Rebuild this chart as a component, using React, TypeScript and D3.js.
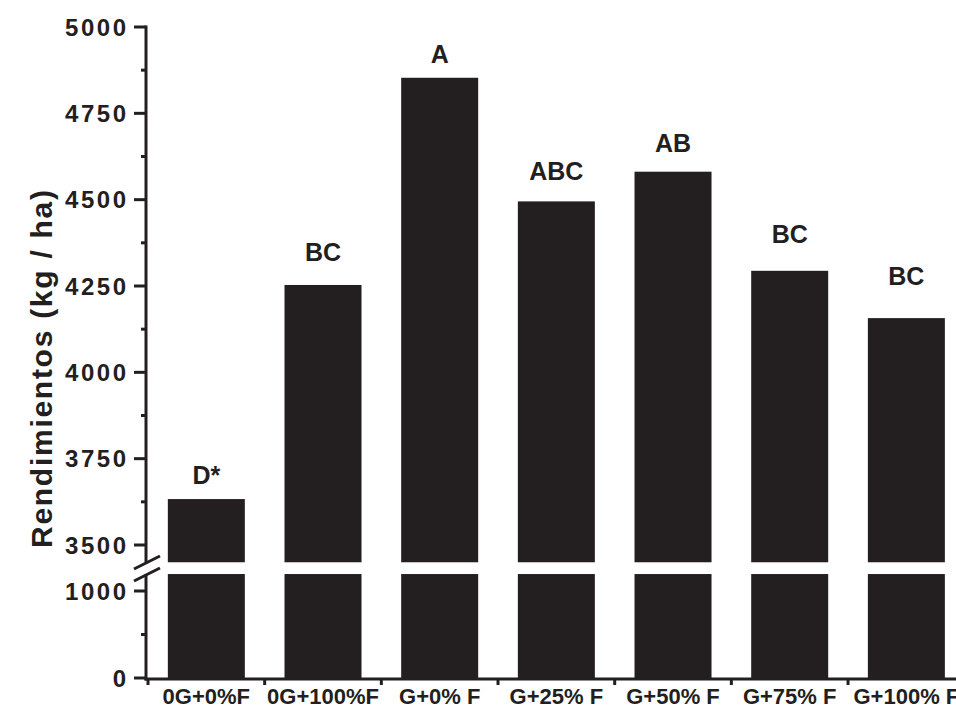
import React from "react";
import * as d3 from "d3";

const categories = ["0G+0%F", "0G+100%F", "G+0% F", "G+25% F", "G+50% F", "G+75% F", "G+100% F"];
const yields = [3633, 4253, 4853, 4495, 4581, 4294, 4157];
const letters = ["D*", "BC", "A", "ABC", "AB", "BC", "BC"];
const letterAt = [3677, 4323, 4895, 4558, 4637, 4375, 4253];
const upperMajor = [3500, 3750, 4000, 4250, 4500, 4750, 5000];
const upperMinor = [3625, 3875, 4125, 4375, 4625, 4875];
const lowerMajor = [0, 1000];
const lowerMinor = [500];

const W = 956;
const H = 710;
const INK = "#231f20";
const FONT = "'Liberation Sans', Arial, Helvetica, sans-serif";

export default function App() {
  const x = d3
    .scaleBand<string>()
    .domain(categories)
    .range([148, 964.7])
    .paddingInner(0.34)
    .paddingOuter(0.17);
  const yUp = d3.scaleLinear().domain([3500, 5000]).range([545, 27]);
  const yLo = d3.scaleLinear().domain([0, 1000]).range([678, 591]);

  const axisX = 146;
  const upperBottom = yUp(3450);
  const lowerTop = yLo(1195);
  const bw = x.bandwidth();
  const step = x.step();
  const boundaries = categories.map((c) => (x(c) as number) - (step - bw) / 2);

  return (
    <svg
      width={W}
      height={H}
      style={{ position: "absolute", left: 0, top: 0, background: "#fff" }}
      fontFamily={FONT}
    >
      <rect x={0} y={0} width={W} height={H} fill="#fff" />
      {/* bars */}
      {categories.map((c, i) => (
        <g key={c}>
          <rect x={x(c)} y={yUp(yields[i])} width={bw} height={upperBottom - yUp(yields[i])} fill={INK} />
          <rect x={x(c)} y={lowerTop} width={bw} height={yLo(0) - lowerTop} fill={INK} />
          <text
            x={(x(c) as number) + bw / 2}
            y={yUp(letterAt[i])}
            textAnchor="middle"
            fontSize={25}
            fontWeight="bold"
            fill={INK}
          >
            {letters[i]}
          </text>
          <text
            x={(x(c) as number) + bw / 2}
            y={704}
            textAnchor="middle"
            fontSize={22}
            fontWeight="bold"
            fill={INK}
          >
            {c}
          </text>
        </g>
      ))}
      {/* x axis */}
      <line x1={axisX - 1.5} x2={W} y1={679} y2={679} stroke={INK} strokeWidth={3} />
      {boundaries.map((b, i) => (
        <line key={i} x1={b} x2={b} y1={679} y2={685} stroke={INK} strokeWidth={3} />
      ))}
      {/* y axis upper */}
      <line x1={axisX} x2={axisX} y1={yUp(5000) - 1.5} y2={upperBottom} stroke={INK} strokeWidth={3} />
      {upperMajor.map((v) => (
        <g key={v}>
          <line x1={axisX - 12} x2={axisX} y1={yUp(v)} y2={yUp(v)} stroke={INK} strokeWidth={3} />
          <text
            x={126}
            y={yUp(v)}
            dy="0.36em"
            textAnchor="end"
            fontSize={24}
            fontWeight="bold"
            fill={INK}
            textLength={61}
            lengthAdjust="spacing"
          >
            {v}
          </text>
        </g>
      ))}
      {upperMinor.map((v) => (
        <line key={v} x1={axisX - 5} x2={axisX} y1={yUp(v)} y2={yUp(v)} stroke={INK} strokeWidth={3} />
      ))}
      {/* y axis lower */}
      <line x1={axisX} x2={axisX} y1={lowerTop} y2={680.5} stroke={INK} strokeWidth={3} />
      {lowerMajor.map((v) => (
        <g key={v}>
          <line x1={axisX - 12} x2={axisX} y1={yLo(v)} y2={yLo(v)} stroke={INK} strokeWidth={3} />
          <text
            x={126}
            y={yLo(v)}
            dy="0.36em"
            textAnchor="end"
            fontSize={24}
            fontWeight="bold"
            fill={INK}
            textLength={v === 0 ? undefined : 61}
            lengthAdjust="spacing"
          >
            {v}
          </text>
        </g>
      ))}
      {lowerMinor.map((v) => (
        <line key={v} x1={axisX - 5} x2={axisX} y1={yLo(v)} y2={yLo(v)} stroke={INK} strokeWidth={3} />
      ))}
      {/* break marks */}
      <line x1={134} y1={569} x2={160} y2={556} stroke={INK} strokeWidth={3} />
      <line x1={134} y1={581} x2={160} y2={568} stroke={INK} strokeWidth={3} />
      {/* y title */}
      <text
        transform={`translate(52, ${369}) rotate(-90)`}
        textAnchor="middle"
        fontSize={30}
        fontWeight="bold"
        fill={INK}
        textLength={358}
        lengthAdjust="spacing"
      >
        Rendimientos (kg / ha)
      </text>
    </svg>
  );
}
